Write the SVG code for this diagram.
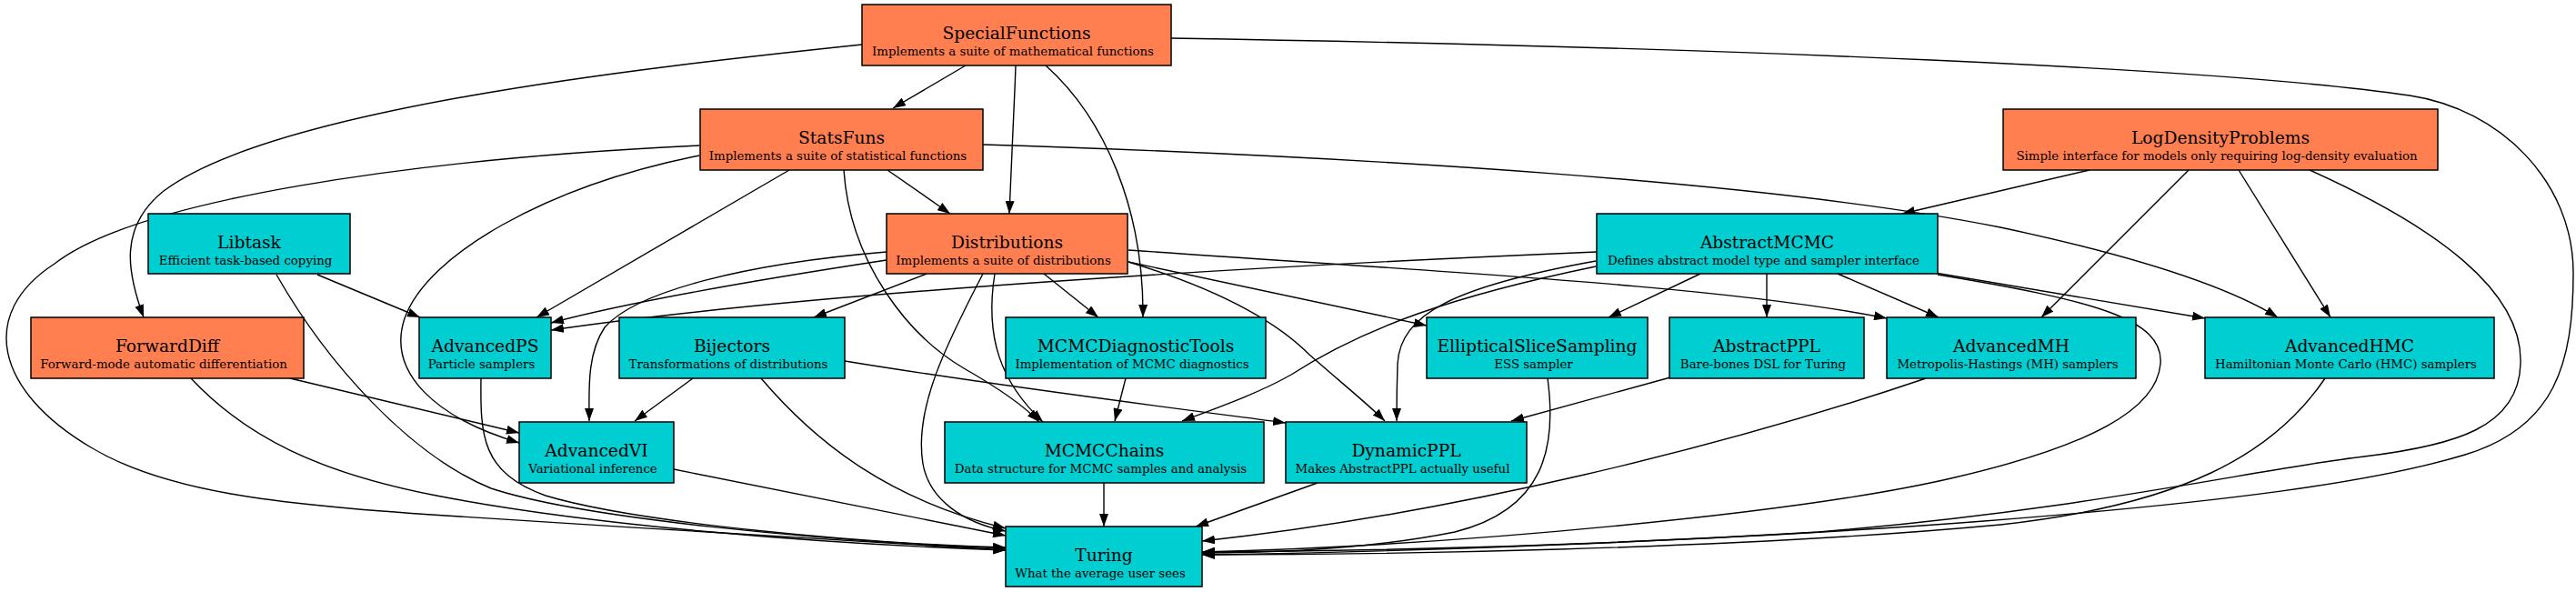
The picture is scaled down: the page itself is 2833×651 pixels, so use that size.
<svg xmlns="http://www.w3.org/2000/svg" width="2833" height="651" viewBox="0 0 2833 651">
<style>
.o{fill:#FF7F50;stroke:#000;stroke-width:1.5}
.c{fill:#00CED1;stroke:#000;stroke-width:1.5}
.t{font-family:"DejaVu Serif",serif;font-size:18.67px;text-anchor:middle;fill:#000}
.s{font-family:"DejaVu Serif",serif;font-size:13.33px;text-anchor:middle;fill:#000}
.e path{fill:none;stroke:#000;stroke-width:1.4;marker-end:url(#a)}
</style>
<defs>
<marker id="a" markerWidth="14" markerHeight="10" refX="14" refY="5" orient="auto" markerUnits="userSpaceOnUse"><path d="M0,0L14,5L0,10z" fill="#000"/></marker>
</defs>
<rect width="2833" height="651" fill="#fff"/>
<g class="e" id="edges">
<path d="M1062,72 L982,119"/>
<path d="M1117,72 C1115,130 1112,190 1110,235"/>
<path d="M1150,72 C1215,130 1258,230 1257,349"/>
<path d="M948,49 C700,75 300,120 180,210 C130,250 140,300 158,349"/>
<path d="M1288,42 C1900,52 2450,75 2650,105 C2750,120 2830,200 2830,300 C2830,400 2810,470 2711,500 C2612,530 2450,552 2182,573 C1900,595 1500,608 1322,610"/>
<path d="M976,187 L1045,235"/>
<path d="M868,187 L590,349"/>
<path d="M769,171 C600,205 470,280 445,350 C425,410 480,460 571,487"/>
<path d="M928,187 C935,290 1000,370 1060,405 C1095,425 1125,445 1143,464"/>
<path d="M1081,159 C1500,172 1950,200 2200,250 C2350,282 2450,315 2505,349"/>
<path d="M769,160 C450,175 150,220 60,290 C-25,345 -5,430 100,492 C180,540 300,555 490,567 C700,580 950,597 1106,605"/>
<path d="M2298,187 L2092,235"/>
<path d="M2407,187 L2245,349"/>
<path d="M2462,187 L2563,349"/>
<path d="M2540,187 C2680,250 2775,320 2772,400 C2770,470 2700,490 2600,502 C2480,516 2300,560 2000,585 C1750,600 1500,606 1322,607"/>
<path d="M349,302 L462,349"/>
<path d="M304,302 C360,400 450,500 540,537 C640,570 900,595 1106,603"/>
<path d="M975,286 C850,305 700,330 606,355"/>
<path d="M1019,301 L895,349"/>
<path d="M1148,301 L1208,349"/>
<path d="M1241,288 L1569,358"/>
<path d="M1241,275 C1600,300 1900,315 2075,350"/>
<path d="M975,277 C820,290 700,320 665,360 C645,390 648,430 648,463"/>
<path d="M1094,301 C1083,370 1100,420 1147,464"/>
<path d="M1241,288 C1330,315 1400,350 1440,390 C1480,425 1505,445 1523,463"/>
<path d="M1081,301 C1040,380 1005,450 1015,510 C1022,550 1060,575 1106,584"/>
<path d="M1756,277 C1400,292 900,320 606,363"/>
<path d="M1870,301 L1769,349"/>
<path d="M1943,301 L1943,349"/>
<path d="M2021,301 L2132,349"/>
<path d="M2128,300 L2425,350"/>
<path d="M1755,293 C1600,325 1500,360 1420,412 C1385,432 1340,448 1300,463"/>
<path d="M1755,287 C1600,315 1540,345 1537,400 C1536,430 1536,450 1536,463"/>
<path d="M2131,302 C2300,330 2380,350 2376,400 C2372,450 2300,490 2150,525 C1980,565 1600,600 1322,607"/>
<path d="M319,416 L571,476"/>
<path d="M210,416 C270,480 350,520 480,545 C650,578 900,598 1106,605"/>
<path d="M529,416 C528,480 530,520 600,545 C700,575 950,598 1106,602"/>
<path d="M762,416 L698,463"/>
<path d="M929,397 C1100,425 1300,450 1414,465"/>
<path d="M837,416 C900,490 980,550 1106,581"/>
<path d="M1238,416 L1226,463"/>
<path d="M1702,416 C1712,490 1700,560 1600,585 C1500,605 1400,608 1322,608"/>
<path d="M1837,415 L1662,463"/>
<path d="M2118,416 C1900,490 1600,565 1322,595"/>
<path d="M2557,416 C2500,500 2400,555 2200,577 C1900,605 1500,610 1322,610"/>
<path d="M741,516 L1106,589"/>
<path d="M1214,531 L1214,579"/>
<path d="M1449,531 L1315,579"/>
</g>
<g id="SpecialFunctions"><rect class="o" x="948" y="5" width="340" height="67"/><text class="t" x="1118" y="43">SpecialFunctions</text><text class="s" x="1114" y="61">Implements a suite of mathematical functions</text></g>
<g id="StatsFuns"><rect class="o" x="770" y="120" width="311" height="67"/><text class="t" x="925.5" y="158">StatsFuns</text><text class="s" x="921.5" y="176">Implements a suite of statistical functions</text></g>
<g id="LogDensityProblems"><rect class="o" x="2203" y="120" width="478" height="67"/><text class="t" x="2442" y="158">LogDensityProblems</text><text class="s" x="2438" y="176">Simple interface for models only requiring log-density evaluation</text></g>
<g id="Libtask"><rect class="c" x="163" y="235" width="222" height="66"/><text class="t" x="274" y="273">Libtask</text><text class="s" x="270" y="291">Efficient task-based copying</text></g>
<g id="Distributions"><rect class="o" x="975" y="235" width="265" height="66"/><text class="t" x="1107.5" y="273">Distributions</text><text class="s" x="1103.5" y="291">Implements a suite of distributions</text></g>
<g id="AbstractMCMC"><rect class="c" x="1756" y="235" width="375" height="66"/><text class="t" x="1943.5" y="273">AbstractMCMC</text><text class="s" x="1939.5" y="291">Defines abstract model type and sampler interface</text></g>
<g id="ForwardDiff"><rect class="o" x="34" y="349" width="300" height="67"/><text class="t" x="184" y="387">ForwardDiff</text><text class="s" x="180" y="405">Forward-mode automatic differentiation</text></g>
<g id="AdvancedPS"><rect class="c" x="461" y="349" width="145" height="67"/><text class="t" x="533.5" y="387">AdvancedPS</text><text class="s" x="529.5" y="405">Particle samplers</text></g>
<g id="Bijectors"><rect class="c" x="681" y="349" width="248" height="67"/><text class="t" x="805" y="387">Bijectors</text><text class="s" x="801" y="405">Transformations of distributions</text></g>
<g id="MCMCDiagnosticTools"><rect class="c" x="1106" y="349" width="286" height="67"/><text class="t" x="1249" y="387">MCMCDiagnosticTools</text><text class="s" x="1245" y="405">Implementation of MCMC diagnostics</text></g>
<g id="EllipticalSliceSampling"><rect class="c" x="1569" y="349" width="243" height="67"/><text class="t" x="1690.5" y="387">EllipticalSliceSampling</text><text class="s" x="1686.5" y="405">ESS sampler</text></g>
<g id="AbstractPPL"><rect class="c" x="1836" y="349" width="214" height="67"/><text class="t" x="1943" y="387">AbstractPPL</text><text class="s" x="1939" y="405">Bare-bones DSL for Turing</text></g>
<g id="AdvancedMH"><rect class="c" x="2075" y="349" width="274" height="67"/><text class="t" x="2212" y="387">AdvancedMH</text><text class="s" x="2208" y="405">Metropolis-Hastings (MH) samplers</text></g>
<g id="AdvancedHMC"><rect class="c" x="2425" y="349" width="318" height="67"/><text class="t" x="2584" y="387">AdvancedHMC</text><text class="s" x="2580" y="405">Hamiltonian Monte Carlo (HMC) samplers</text></g>
<g id="AdvancedVI"><rect class="c" x="571" y="464" width="170" height="67"/><text class="t" x="656" y="502">AdvancedVI</text><text class="s" x="652" y="520">Variational inference</text></g>
<g id="MCMCChains"><rect class="c" x="1039" y="464" width="351" height="67"/><text class="t" x="1214.5" y="502">MCMCChains</text><text class="s" x="1210.5" y="520">Data structure for MCMC samples and analysis</text></g>
<g id="DynamicPPL"><rect class="c" x="1414" y="464" width="265" height="67"/><text class="t" x="1546.5" y="502">DynamicPPL</text><text class="s" x="1542.5" y="520">Makes AbstractPPL actually useful</text></g>
<g id="Turing"><rect class="c" x="1106" y="579" width="216" height="66"/><text class="t" x="1214" y="617">Turing</text><text class="s" x="1210" y="635">What the average user sees</text></g>
</svg>
